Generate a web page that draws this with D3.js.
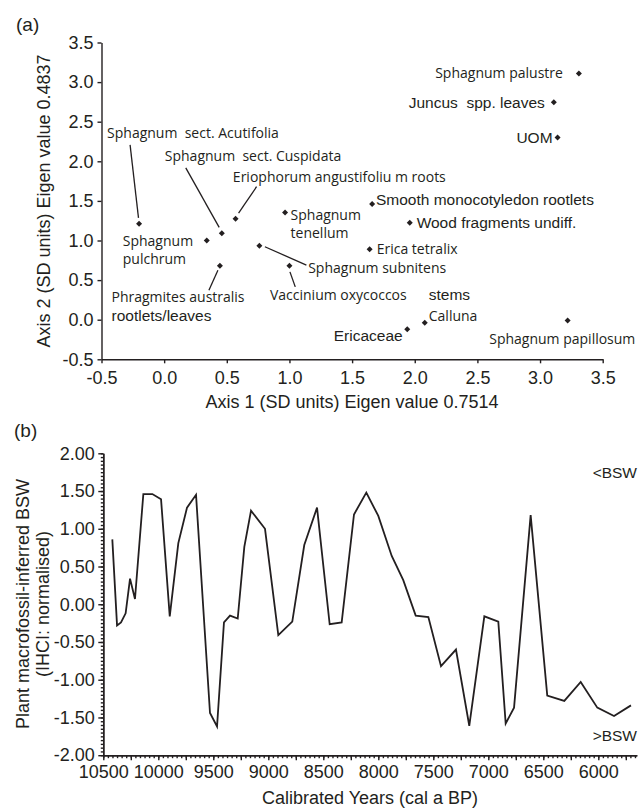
<!DOCTYPE html>
<html lang="en">
<head>
<meta charset="UTF-8">
<title>DCA ordination and plant macrofossil BSW</title>
<script src="https://cdn.jsdelivr.net/npm/d3@7"></script>
<style>
    body { margin: 0; background: #fff; }
    svg { display: block; font-family: "Liberation Sans", Arial, sans-serif; fill: #231f20; }
    .lab-m { font-family: "Open Sans", sans-serif; font-size: 14px; }
    .lab-a { font-family: "Liberation Sans", Arial, sans-serif; font-size: 15.5px; }
    .axis text { font-size: 18px; fill: #231f20; font-family: "Liberation Sans", Arial, sans-serif; }
    .axis path, .axis line { stroke: #231f20; stroke-width: 1.4px; }
    .title { font-size: 18px; }
</style>
</head>
<body>
<svg id="chart" width="643" height="811"></svg>
<script>
// ---- panel (a): DCA scores ----
const taxa = ["Sphagnum palustre", "Juncus spp. leaves", "UOM", "Sphagnum sect. Acutifolia",
    "Sphagnum pulchrum", "Sphagnum sect. Cuspidata", "Eriophorum angustifolium roots",
    "Phragmites australis rootlets/leaves", "Sphagnum tenellum", "Sphagnum subnitens",
    "Vaccinium oxycoccos", "Smooth monocotyledon rootlets", "Wood fragments undiff.",
    "Erica tetralix", "Calluna stems", "Ericaceae", "Sphagnum papillosum"];
const axis1 = [3.31, 3.11, 3.14, -0.20, 0.34, 0.46, 0.57, 0.445, 0.965, 0.76, 1.00, 1.66, 1.96, 1.64, 2.08, 1.94, 3.22];
const axis2 = [3.11, 2.745, 2.30, 1.21, 1.00, 1.09, 1.275, 0.68, 1.355, 0.935, 0.68, 1.46, 1.225, 0.89, -0.04, -0.12, -0.01];
const ticksA = [-0.5, 0.0, 0.5, 1.0, 1.5, 2.0, 2.5, 3.0, 3.5];

// ---- panel (b): BSW reconstruction ----
const years = [10418, 10375, 10339, 10297, 10257, 10212, 10136, 10054, 9975, 9896, 9818, 9739, 9657,
    9530, 9466, 9403, 9348, 9278, 9218, 9157, 9030, 8909, 8782, 8673, 8557, 8442, 8333, 8221, 8109,
    8000, 7878, 7773, 7660, 7545, 7430, 7294, 7173, 7036, 6909, 6842, 6766, 6615, 6464, 6309, 6160,
    6009, 5857, 5703];
const bsw = [0.86, -0.28, -0.24, -0.12, 0.34, 0.07, 1.46, 1.46, 1.39, -0.16, 0.81, 1.28, 1.45,
    -1.44, -1.62, -0.24, -0.15, -0.19, 0.76, 1.24, 1.00, -0.41, -0.23, 0.785, 1.28, -0.265, -0.24, 1.19, 1.48,
    1.17, 0.64, 0.32, -0.15, -0.17, -0.82, -0.60, -1.61, -0.16, -0.23, -1.58, -1.37, 1.18, -1.21, -1.28, -1.03,
    -1.37, -1.48, -1.34];
const yTicksB = [-2, -1.5, -1, -0.5, 0, 0.5, 1, 1.5, 2];
const xTicksB = [10500, 10000, 9500, 9000, 8500, 8000, 7500, 7000, 6500, 6000];

// label placement for panel (a), pixel offsets from each point
const labelLayout = [
    { lines: [["Sphagnum palustre", "m"]], dx: -16, dy: 0, anchor: "end" },
    { lines: [["Juncus  spp. leaves", "a"]], dx: -9, dy: 0, anchor: "end" },
    { lines: [["UOM", "a"]], dx: -5, dy: 0, anchor: "end" },
    { lines: [["Sphagnum  sect. Acutifolia", "m"]], dx: -32, dy: -91, leader: [-9, -79, -0.6, -6] },
    { lines: [["Sphagnum", "m"], ["pulchrum", "m"]], dx: -84, dy: 0.5 },
    { lines: [["Sphagnum  sect. Cuspidata", "m"]], dx: -57, dy: -77, leader: [-36, -65.5, -2.6, -6] },
    { lines: [["Eriophorum angustifoliu m roots", "m"]], dx: -2.7, dy: -42, leader: [21, -32, 3, -5.6] },
    { lines: [["Phragmites australis", "m"], ["rootlets/leaves", "a"]], dx: -108.4, dy: 31.7, leader: [-11, 24.4, -2, 4.4] },
    { lines: [["Sphagnum", "m"], ["tenellum", "m"]], dx: 5.5, dy: 2.7 },
    { lines: [["Sphagnum subnitens", "m"]], dx: 48.8, dy: 22.7, leader: [5.5, 1.1, 47, 19.4] },
    { lines: [["Vaccinium oxycoccos", "m"]], dx: -19.5, dy: 29.4, leader: [0.5, 6, 5.8, 21] },
    { lines: [["Smooth monocotyledon rootlets", "a"]], dx: 3.8, dy: -4 },
    { lines: [["Wood fragments undiff.", "a"]], dx: 6.9, dy: 0 },
    { lines: [["Erica tetralix", "m"]], dx: 7, dy: 0 },
    { lines: [["stems", "a"], ["Calluna", "m"]], dx: 4, dy: -27.9, lineGap: 21 },
    { lines: [["Ericaceae", "a"]], dx: -4.5, dy: 6.6, anchor: "end" },
    { lines: [["Sphagnum papillosum", "m"]], dx: -78.4, dy: 18.8 }
];

const svg = d3.select("#chart");

/* --- Panel (a) --- */
const xA = d3.scaleLinear().domain([-0.5, 3.5]).range([101.5, 602.7]);
const yA = d3.scaleLinear().domain([-0.5, 3.5]).range([359.3, 42.5]);

svg.append("g").attr("class", "axis")
    .attr("transform", "translate(101.5,0)")
    .call(d3.axisLeft(yA).tickValues(ticksA).tickFormat(d => d.toFixed(1)).tickSize(4).tickPadding(4).tickSizeOuter(0));
svg.append("g").attr("class", "axis")
    .attr("transform", "translate(0,359.3)")
    .call(d3.axisBottom(xA).tickValues(ticksA).tickFormat(d => d.toFixed(1)).tickSize(4).tickPadding(8).tickSizeOuter(0));

const scores = taxa.map((t, i) => ({ name: t, x: xA(axis1[i]), y: yA(axis2[i]), lay: labelLayout[i] }));

const gA = svg.append("g");
gA.selectAll("path.pt")
    .data(scores)
    .enter().append("path")
    .attr("class", "pt")
    .attr("d", d3.symbol(d3.symbolSquare, 18))
    .attr("transform", d => `translate(${d.x},${d.y}) rotate(45)`)
    .attr("fill", "#231f20");

scores.forEach(d => {
    const l = d.lay;
    if (l.leader) {
        gA.append("line")
            .attr("x1", d.x + l.leader[0]).attr("y1", d.y + l.leader[1])
            .attr("x2", d.x + l.leader[2]).attr("y2", d.y + l.leader[3])
            .attr("stroke", "#231f20").attr("stroke-width", 1.3);
    }
    const gap = l.lineGap || 18.3;
    l.lines.forEach((ln, j) => {
        gA.append("text")
            .attr("class", ln[1] === "m" ? "lab-m" : "lab-a")
            .attr("x", d.x + l.dx)
            .attr("y", d.y + l.dy + j * gap)
            .attr("dy", "0.35em")
            .attr("text-anchor", l.anchor || "start")
            .attr("xml:space", "preserve")
            .style("white-space", "pre")
            .text(ln[0]);
    });
});

svg.append("text").attr("class", "title")
    .attr("x", 352).attr("y", 408).attr("text-anchor", "middle")
    .text("Axis 1 (SD units) Eigen value 0.7514");
svg.append("text").attr("class", "title")
    .attr("transform", "translate(50,201) rotate(-90)").attr("text-anchor", "middle")
    .text("Axis 2 (SD units) Eigen value 0.4837");
svg.append("text").attr("x", 16).attr("y", 31).style("font-size", "19px").text("(a)");

/* --- Panel (b) --- */
const xB = d3.scaleLinear().domain([10500, 5650]).range([103.3, 636.8]);
const yB = d3.scaleLinear().domain([-2, 2]).range([755.2, 453.3]);

// minor ticks first
svg.append("g").attr("class", "axis")
    .attr("transform", "translate(103.3,0)")
    .call(d3.axisLeft(yB).tickValues(d3.range(-2, 2.001, 0.05)).tickFormat("").tickSize(2.5).tickSizeOuter(0));
svg.append("g").attr("class", "axis")
    .attr("transform", "translate(0,755.2)")
    .call(d3.axisBottom(xB).tickValues(d3.range(10500, 5650, -250 / 6)).tickFormat("").tickSize(3).tickSizeOuter(0));

svg.append("g").attr("class", "axis")
    .attr("transform", "translate(103.3,0)")
    .call(d3.axisLeft(yB).tickValues(yTicksB).tickFormat(d => d.toFixed(2)).tickSize(5).tickPadding(3.5).tickSizeOuter(0));
svg.append("g").attr("class", "axis")
    .attr("transform", "translate(0,755.2)")
    .call(d3.axisBottom(xB).tickValues(d3.range(10500, 5700, -250))
        .tickFormat(d => xTicksB.includes(d) ? d : "").tickSize(5).tickPadding(5).tickSizeOuter(0));

const line = d3.line().x((d, i) => xB(years[i])).y(d => yB(d));
svg.append("path")
    .datum(bsw)
    .attr("fill", "none")
    .attr("stroke", "#231f20")
    .attr("stroke-width", 1.8)
    .attr("stroke-linejoin", "miter")
    .attr("d", line);

svg.append("text").attr("x", 637).attr("y", 472.3).attr("dy", "0.35em").attr("text-anchor", "end")
    .style("font-size", "15.5px").text("<BSW");
svg.append("text").attr("x", 637).attr("y", 735.7).attr("dy", "0.35em").attr("text-anchor", "end")
    .style("font-size", "15.5px").text(">BSW");

svg.append("text").attr("class", "title")
    .attr("x", 370).attr("y", 804).attr("text-anchor", "middle")
    .text("Calibrated Years (cal a BP)");
svg.append("text").attr("class", "title")
    .attr("transform", "translate(29,604) rotate(-90)").attr("text-anchor", "middle")
    .text("Plant macrofossil-inferred BSW");
svg.append("text").attr("class", "title")
    .attr("transform", "translate(49,604) rotate(-90)").attr("text-anchor", "middle")
    .text("(IHCI: normalised)");
svg.append("text").attr("x", 14).attr("y", 437).style("font-size", "19px").text("(b)");
</script>
</body>
</html>
